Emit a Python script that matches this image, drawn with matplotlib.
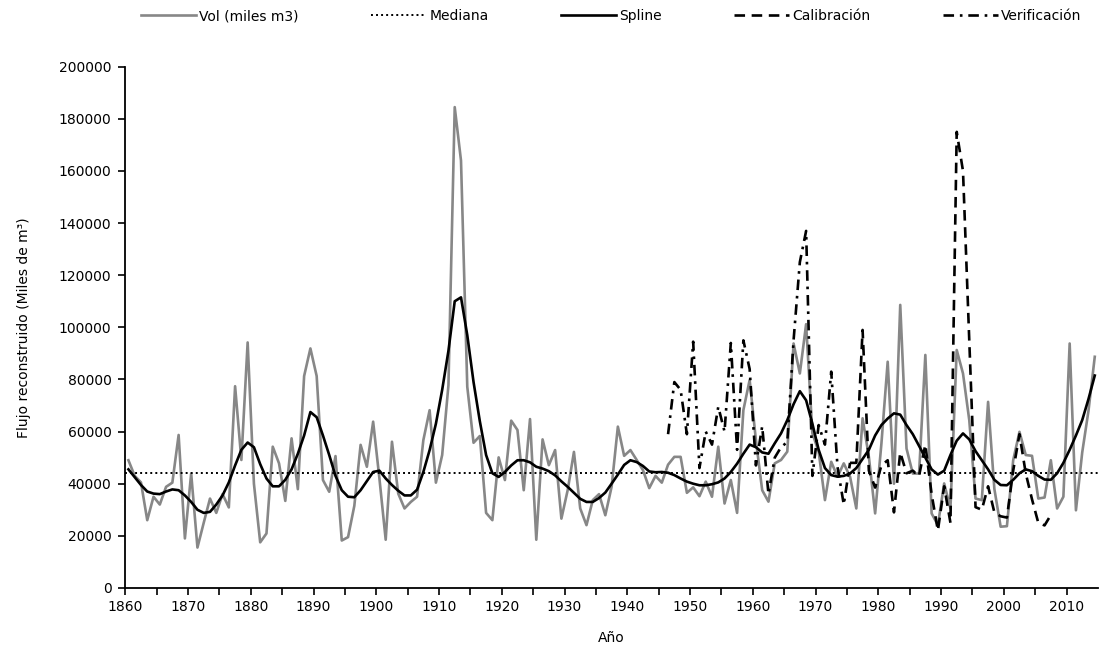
import numpy as np
import matplotlib
matplotlib.use("Agg")
import matplotlib.pyplot as plt

# --- data (miles de m3) ---
years = np.arange(1860, 2015)

vol = [
    49.0, 43.0, 40.5, 26.0, 35.0, 32.0, 38.8, 40.4, 58.7, 19.0,   # 1860s
    43.9, 15.5, 25.0, 34.3, 28.8, 36.0, 30.9, 77.4, 49.1, 94.2,   # 1870s
    40.0, 17.5, 20.9, 54.2, 47.8, 33.4, 57.4, 37.9, 81.3, 91.9,   # 1880s
    81.3, 41.4, 36.9, 50.6, 18.2, 19.5, 31.5, 54.9, 46.5, 63.8,   # 1890s
    42.0, 18.5, 56.1, 36.2, 30.5, 33.0, 35.0, 56.7, 68.2, 40.4,   # 1900s
    51.0, 77.8, 184.5, 164.0, 77.2, 55.7, 58.3, 28.8, 26.0, 50.1, # 1910s
    41.4, 64.2, 60.6, 37.5, 64.8, 18.5, 57.0, 47.1, 52.9, 26.6,   # 1920s
    37.5, 52.2, 30.5, 24.1, 33.7, 36.0, 27.9, 38.8, 61.9, 50.7,   # 1930s
    52.9, 49.1, 45.2, 38.3, 43.0, 40.4, 47.3, 50.3, 50.3, 36.5,   # 1940s
    38.6, 35.2, 40.8, 35.0, 54.2, 32.4, 41.4, 28.8, 68.2, 79.8,   # 1950s
    56.7, 37.5, 33.1, 47.8, 49.1, 52.3, 93.8, 82.3, 101.2, 59.3,  # 1960s
    52.3, 33.7, 48.4, 42.7, 47.8, 42.7, 30.5, 65.1, 50.3, 28.6,   # 1970s
    55.4, 86.8, 40.0, 108.6, 53.5, 43.9, 43.9, 89.4, 28.6, 24.1,  # 1980s
    40.1, 30.5, 91.3, 82.3, 64.4, 34.3, 33.7, 71.4, 38.0, 23.5,   # 1990s
    23.7, 49.0, 59.9, 51.0, 50.7, 34.3, 34.7, 49.0, 30.5, 35.0,   # 2000s
    93.8, 29.8, 52.0, 68.0, 88.7,                                 # 2010s
]

spline = [
    45.5, 42.5, 39.5, 37.0, 36.2, 36.0, 37.0, 37.8, 37.5, 35.5,
    33.0, 30.0, 28.8, 29.2, 32.0, 35.5, 40.5, 47.0, 53.0, 55.8,
    54.0, 47.5, 42.0, 39.0, 39.0, 41.5, 45.5, 51.5, 58.5, 67.5,
    65.5, 58.5, 51.0, 43.0, 37.5, 35.0, 34.8, 37.5, 41.0, 44.5,
    45.0, 42.0, 39.5, 37.3, 35.5, 35.5, 37.7, 44.5, 52.9, 63.0,
    76.0, 91.0, 110.0, 111.5, 97.0, 79.0, 64.0, 51.0, 44.0, 42.6,
    44.5, 47.0, 49.0, 49.0, 48.2, 46.5, 45.8, 44.8, 43.2, 40.9,
    38.8, 36.5, 34.2, 33.0, 33.0, 34.5, 36.6, 40.0, 43.5, 47.2,
    49.0, 48.3, 46.8, 44.7, 44.4, 44.5, 44.2, 43.3, 42.0, 40.8,
    40.0, 39.4, 39.4, 39.8, 40.5, 42.0, 44.5, 47.7, 51.5, 55.0,
    54.0, 52.0, 51.5, 55.5, 59.3, 64.4, 70.5, 75.5, 72.0, 63.0,
    53.0, 46.0, 43.3, 42.7, 43.0, 43.9, 46.0, 49.5, 53.0, 58.5,
    62.5, 65.0, 67.0, 66.5, 62.5, 59.0, 54.5, 50.0, 45.5, 43.5,
    45.0, 51.0, 56.5, 59.3, 57.0, 52.5, 49.0, 45.5, 41.5, 39.5,
    39.4, 41.5, 44.0, 45.5, 44.8, 43.0, 41.6, 41.5, 44.0, 48.0,
    53.0, 58.5, 64.4, 72.5, 81.5,
]

mediana = 44.0

verif_years = np.arange(1946, 1976)
verif = [
    59.0, 79.0, 76.0, 59.0, 94.5, 46.0, 60.0, 55.0, 69.5, 60.0,
    94.0, 53.0, 95.0, 84.0, 47.0, 62.0, 36.0, 50.0, 54.0, 56.0,
    95.0, 125.0, 137.0, 43.0, 62.5, 55.0, 83.0, 46.5, 32.0, 48.0,
]

calib_years = np.arange(1975, 2008)
calib = [
    48.0, 48.0, 99.0, 45.0, 38.5, 47.0, 49.0, 29.0, 52.0, 44.0,
    45.0, 43.0, 55.0, 36.0, 22.0, 39.0, 25.0, 175.0, 160.0, 95.0,
    31.0, 30.0, 39.0, 29.0, 27.5, 27.0, 45.0, 59.0, 44.0, 34.0,
    25.0, 24.0, 28.0,
]

# --- figure ---
plt.rcParams['font.family'] = ['DejaVu Sans']
fig = plt.figure(figsize=(10.99, 6.54), dpi=100)
ax = fig.add_axes([0.114, 0.101, 0.885, 0.797])

k = 1000
ax.plot(years, np.array(vol) * k, color='#878787', lw=1.9, label='Vol (miles m3)')
ax.plot([years[0] - 0.5, years[-1] + 0.5], [mediana * k] * 2, color='black', lw=1.4,
        linestyle=(0, (1, 1.6)), label='Mediana')
ax.plot(years, np.array(spline) * k, color='black', lw=1.9, label='Spline')
ax.plot(calib_years, np.array(calib) * k, color='black', lw=1.9,
        linestyle=(0, (4, 2.5)), label='Calibración')
ax.plot(verif_years, np.array(verif) * k, color='black', lw=1.9,
        linestyle=(0, (4, 2.2, 1, 2.2)), label='Verificación')

ax.set_xlim(1859.5, 2014.5)
ax.set_ylim(0, 200000)
ax.set_yticks(np.arange(0, 200001, 20000))
ax.set_yticklabels([str(v) for v in range(0, 200001, 20000)])
ax.set_xticks(np.arange(1860, 2011, 10) - 0.5)
ax.set_xticklabels([str(y) for y in range(1860, 2011, 10)])
ax.set_xticks(np.arange(1865, 2015, 10) - 0.5, minor=True)
ax.tick_params(axis='both', which='both', direction='out', length=5, width=1.2,
               labelsize=10, colors='black')
ax.tick_params(axis='x', pad=4)
ax.tick_params(axis='y', pad=5)

for s in ['top', 'right']:
    ax.spines[s].set_visible(False)
for s in ['left', 'bottom']:
    ax.spines[s].set_linewidth(1.3)

ax.set_xlabel('Año', fontsize=10, labelpad=12)
ax.set_ylabel('Flujo reconstruido (Miles de m³)', fontsize=10, labelpad=20)

fig.legend(loc='upper center', bbox_to_anchor=(0.556, 1.005), ncol=5, frameon=False,
           fontsize=10, handlelength=4.0, handletextpad=0.2, columnspacing=5.2)

fig.savefig('out.png', dpi=100)
